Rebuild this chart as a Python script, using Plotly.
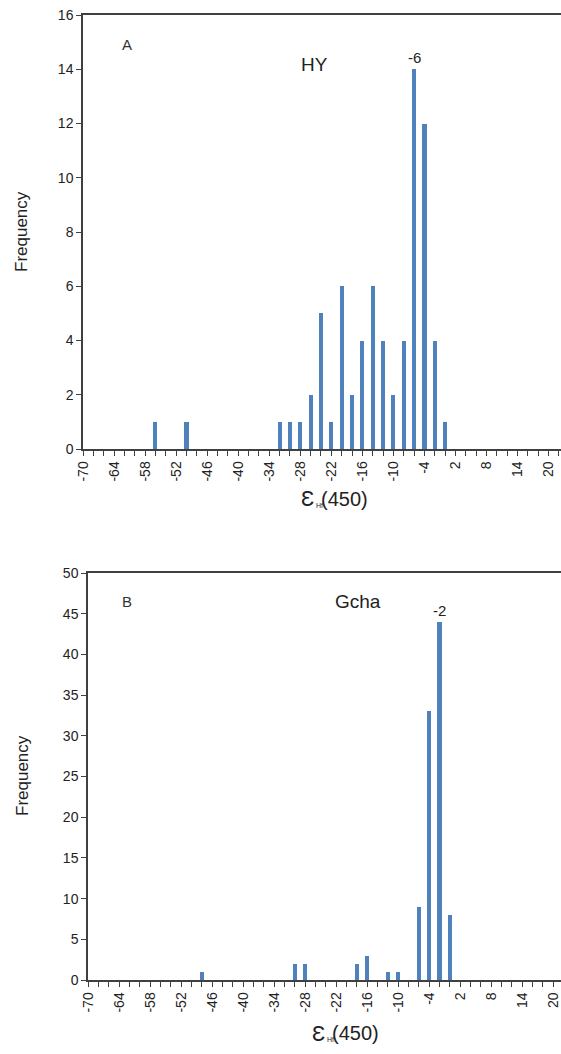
import plotly.graph_objects as go

# Panel A (HY): epsilon_Hf(450) bin centres and frequencies
hy_eps = [-56, -50, -32, -30, -28, -26, -24, -22, -20, -18, -16, -14, -12, -10, -8, -6, -4, -2, 0]
hy_freq = [1, 1, 1, 1, 1, 2, 5, 1, 6, 2, 4, 6, 4, 2, 4, 14, 12, 4, 1]

# Panel B (Gcha)
gcha_eps = [-48, -30, -28, -18, -16, -12, -10, -6, -4, -2, 0]
gcha_freq = [1, 2, 2, 2, 3, 1, 1, 9, 33, 44, 8]

x_tick_vals = list(range(-70, 21, 6))
x_tick_text = [str(v) for v in x_tick_vals]

W, H = 561, 1054
BAR = "#4F81BD"
AX = "#404040"
TXT = "#222222"
FONT = "Liberation Sans, Arial, sans-serif"


def px(x):
    return x / W


def py(y):
    return 1 - y / H


fig = go.Figure()
fig.add_trace(go.Bar(x=hy_eps, y=hy_freq, width=0.8, marker_color=BAR,
                     marker_line_width=0, xaxis="x", yaxis="y", showlegend=False))
fig.add_trace(go.Bar(x=gcha_eps, y=gcha_freq, width=0.8, marker_color=BAR,
                     marker_line_width=0, xaxis="x2", yaxis="y2", showlegend=False))


def xax(domain_left, rng, anchor):
    return dict(
        domain=[px(domain_left), 1], range=rng, anchor=anchor, automargin=False,
        tickmode="array", tickvals=x_tick_vals, ticktext=x_tick_text,
        tickangle=-90, ticks="outside", ticklen=5, tickwidth=1.2, tickcolor=AX,
        minor=dict(dtick=2, tick0=-70, ticks="outside", ticklen=5, tickwidth=1.2, tickcolor=AX),
        showline=True, linecolor=AX, linewidth=1.5, mirror=True,
        showgrid=False, zeroline=False, ticklabeloverflow="allow",
        tickfont=dict(family=FONT, size=14, color=TXT),
    )


def yax(ytop, ybot, rng, dtick, anchor):
    return dict(
        domain=[py(ybot), py(ytop)], range=rng, anchor=anchor, automargin=False,
        tickmode="linear", tick0=0, dtick=dtick,
        ticks="outside", ticklen=5, tickwidth=1.2, tickcolor=AX,
        showline=True, linecolor=AX, linewidth=1.5,
        showgrid=False, zeroline=False, ticklabeloverflow="allow",
        tickfont=dict(family=FONT, size=14, color=TXT),
    )


ann = []


def text(x, y, s, size, color=TXT, angle=0, xanchor="center"):
    ann.append(dict(x=px(x), y=py(y), xref="paper", yref="paper", text=s, showarrow=False,
                    font=dict(family=FONT, size=size, color=color), textangle=angle,
                    xanchor=xanchor, yanchor="middle"))


def eps_title(x_split, y):
    text(x_split + 1, y, "Ɛ", 22, xanchor="right")
    text(x_split - 1, y + 6, "Hf", 7, xanchor="left")
    text(x_split + 4, y, "(450)", 20, xanchor="left")


text(127, 44, "A", 15, "#333333")
text(314, 65, "HY", 19)
text(22, 232, "Frequency", 17, angle=-90)
eps_title(315, 499)

text(127, 601, "B", 15, "#333333")
text(358, 601, "Gcha", 19)
text(22, 776, "Frequency", 17, angle=-90)
eps_title(326, 1033)

ann.append(dict(x=-6, y=14, xref="x", yref="y", text="-6", showarrow=False,
                yanchor="bottom", yshift=1, font=dict(family=FONT, size=15, color=TXT)))
ann.append(dict(x=-2, y=44, xref="x2", yref="y2", text="-2", showarrow=False,
                yanchor="bottom", yshift=1, font=dict(family=FONT, size=15, color=TXT)))

fig.update_layout(
    width=W, height=H,
    margin=dict(l=0, r=0, t=0, b=0),
    paper_bgcolor="white", plot_bgcolor="white",
    bargap=0,
    xaxis=xax(83, [-70, 22.4], "y"),
    yaxis=yax(15, 449, [0, 16], 2, "x"),
    xaxis2=xax(88, [-70, 21.5], "y2"),
    yaxis2=yax(573, 980, [0, 50], 5, "x2"),
    annotations=ann,
    font=dict(family=FONT, color=TXT),
)

fig.write_html("out.html", config={"displayModeBar": False},
               post_script="document.body.style.margin='0';document.body.style.overflow='hidden';")
